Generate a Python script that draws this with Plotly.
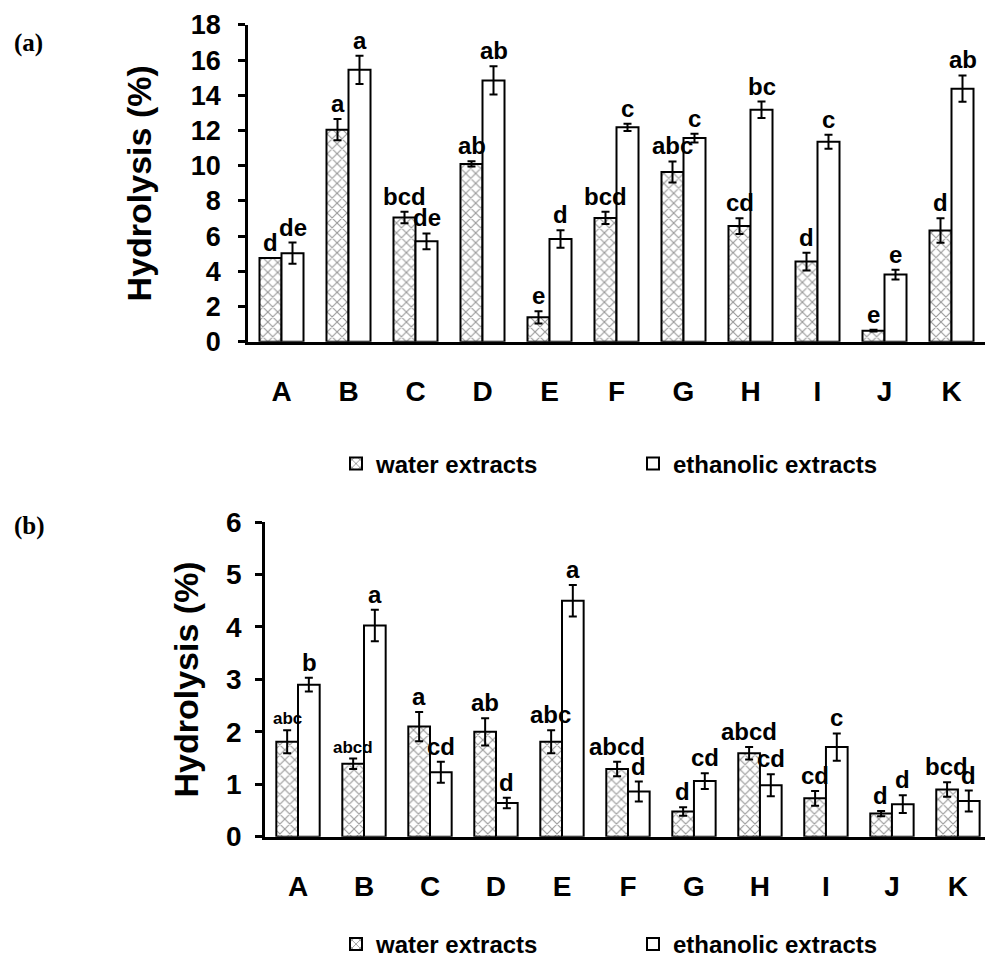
import plotly.graph_objects as go

categories = ["A", "B", "C", "D", "E", "F", "G", "H", "I", "J", "K"]

# Panel (a)
water_a = [4.75, 12.05, 7.06, 10.1, 1.38, 7.03, 9.64, 6.57, 4.55, 0.62, 6.32]
water_a_err = [0.0, 0.6, 0.33, 0.15, 0.35, 0.35, 0.6, 0.45, 0.5, 0.05, 0.7]
eth_a = [5.03, 15.45, 5.70, 14.85, 5.83, 12.18, 11.57, 13.18, 11.36, 3.81, 14.38]
eth_a_err = [0.6, 0.8, 0.45, 0.8, 0.5, 0.2, 0.25, 0.47, 0.4, 0.28, 0.75]
water_a_letters = ["d", "a", "bcd", "ab", "e", "bcd", "abc", "cd", "d", "e", "d"]
eth_a_letters = ["de", "a", "de", "ab", "d", "c", "c", "bc", "c", "e", "ab"]

# Panel (b)
water_b = [1.81, 1.39, 2.10, 2.00, 1.81, 1.29, 0.48, 1.59, 0.73, 0.44, 0.90]
water_b_err = [0.22, 0.10, 0.28, 0.26, 0.22, 0.14, 0.08, 0.12, 0.14, 0.05, 0.14]
eth_b = [2.90, 4.03, 1.23, 0.64, 4.50, 0.86, 1.06, 0.98, 1.71, 0.62, 0.68]
eth_b_err = [0.13, 0.30, 0.20, 0.10, 0.30, 0.19, 0.15, 0.21, 0.26, 0.17, 0.20]
water_b_letters = ["abc", "abcd", "a", "ab", "abc", "abcd", "d", "abcd", "cd", "d", "bcd"]
eth_b_letters = ["b", "a", "cd", "d", "a", "d", "cd", "cd", "c", "d", "d"]
water_b_letter_sizes = [17, 17, 24, 24, 24, 24, 24, 24, 24, 24, 24]

series_names = ["water extracts", "ethanolic extracts"]

FONT = "Liberation Sans, Arial, sans-serif"
pattern = dict(shape="x", fgcolor="#333333", bgcolor="white", size=7, solidity=0.3)

fig = go.Figure()

def add_panel(water, werr, eth, eerr, xa, ya, legend):
    fig.add_trace(go.Bar(
        x=categories, y=water, name=series_names[0], xaxis=xa, yaxis=ya, legend=legend,
        marker=dict(color="white", pattern=pattern, line=dict(color="black", width=2)),
        error_y=dict(type="data", array=werr, color="black", thickness=2, width=4),
    ))
    fig.add_trace(go.Bar(
        x=categories, y=eth, name=series_names[1], xaxis=xa, yaxis=ya, legend=legend,
        marker=dict(color="white", line=dict(color="black", width=2)),
        error_y=dict(type="data", array=eerr, color="black", thickness=2, width=4),
    ))

add_panel(water_a, water_a_err, eth_a, eth_a_err, "x", "y", "legend")
add_panel(water_b, water_b_err, eth_b, eth_b_err, "x2", "y2", "legend2")

annotations = []
def add_letters(vals, errs, letters, sizes, xref, yref, shift):
    for c, v, e, t, s in zip(categories, vals, errs, letters, sizes):
        annotations.append(dict(
            x=c, y=v + e, xref=xref, yref=yref, text=t, showarrow=False,
            xshift=shift, yanchor="bottom", xanchor="center",
            font=dict(family=FONT, size=s, color="black", weight="bold"),
        ))

add_letters(water_a, water_a_err, water_a_letters, [24] * 11, "x", "y", -11)
add_letters(eth_a, eth_a_err, eth_a_letters, [24] * 11, "x", "y", 11)
add_letters(water_b, water_b_err, water_b_letters, water_b_letter_sizes, "x2", "y2", -11)
add_letters(eth_b, eth_b_err, eth_b_letters, [24] * 11, "x2", "y2", 11)

annotations.append(dict(x=12 / 985, y=1 - 43 / 967, xref="paper", yref="paper", text="(a)",
                        showarrow=False, xanchor="left", yanchor="middle",
                        font=dict(family="Liberation Serif, Times New Roman, serif", size=25,
                                  color="black", weight="bold")))
annotations.append(dict(x=12 / 985, y=1 - 527 / 967, xref="paper", yref="paper", text="(b)",
                        showarrow=False, xanchor="left", yanchor="middle",
                        font=dict(family="Liberation Serif, Times New Roman, serif", size=25,
                                  color="black", weight="bold")))

xcommon = dict(showline=True, linecolor="black", linewidth=3, ticks="", showgrid=False,
               zeroline=False, ticklabelstandoff=23, automargin=False,
               tickfont=dict(family=FONT, size=28, color="black", weight="bold"))
ycommon = dict(showline=True, linecolor="black", linewidth=2.5, ticks="outside", ticklen=7,
               tickwidth=2.5, tickcolor="black", showgrid=False, zeroline=False,
               automargin=False)

fig.update_layout(
    width=985, height=967, autosize=False,
    margin=dict(l=0, r=0, t=0, b=0, pad=0),
    paper_bgcolor="white", plot_bgcolor="white",
    barmode="group", bargap=0.343, bargroupgap=0,
    showlegend=True,
    xaxis=dict(**xcommon, domain=[248 / 985, 1], range=[-0.5, 10.5], anchor="y"),
    yaxis=dict(**ycommon, domain=[1 - 342 / 967, 1 - 25 / 967], range=[0, 18], dtick=2,
               anchor="x", ticklabelstandoff=12,
               tickfont=dict(family=FONT, size=27, color="black", weight="bold"),
               title=dict(text="Hydrolysis (%)", standoff=29,
                          font=dict(family=FONT, size=34, color="black", weight="bold"))),
    xaxis2=dict(**xcommon, domain=[265 / 985, 1], range=[-0.5, 10.41], anchor="y2"),
    yaxis2=dict(**ycommon, domain=[1 - 837.5 / 967, 1 - 522.7 / 967], range=[0, 6], dtick=1,
                anchor="x2", ticklabelstandoff=8,
                tickfont=dict(family=FONT, size=28, color="black", weight="bold"),
                title=dict(text="Hydrolysis (%)", standoff=18,
                           font=dict(family=FONT, size=34, color="black", weight="bold"))),
    legend=dict(orientation="h", x=336 / 985, y=1 - 464 / 967, xanchor="left", yanchor="middle",
                entrywidth=252, entrywidthmode="pixels", itemwidth=30,
                font=dict(family=FONT, size=24, color="black", weight="bold"),
                bgcolor="rgba(0,0,0,0)"),
    legend2=dict(orientation="h", x=336 / 985, y=1 - 945 / 967, xanchor="left", yanchor="middle",
                 entrywidth=252, entrywidthmode="pixels", itemwidth=30,
                 font=dict(family=FONT, size=24, color="black", weight="bold"),
                 bgcolor="rgba(0,0,0,0)"),
    annotations=annotations,
)

fig.write_html("out.html", config={"displayModeBar": False},
               post_script="document.body.style.margin='0';document.body.style.overflow='hidden';")
